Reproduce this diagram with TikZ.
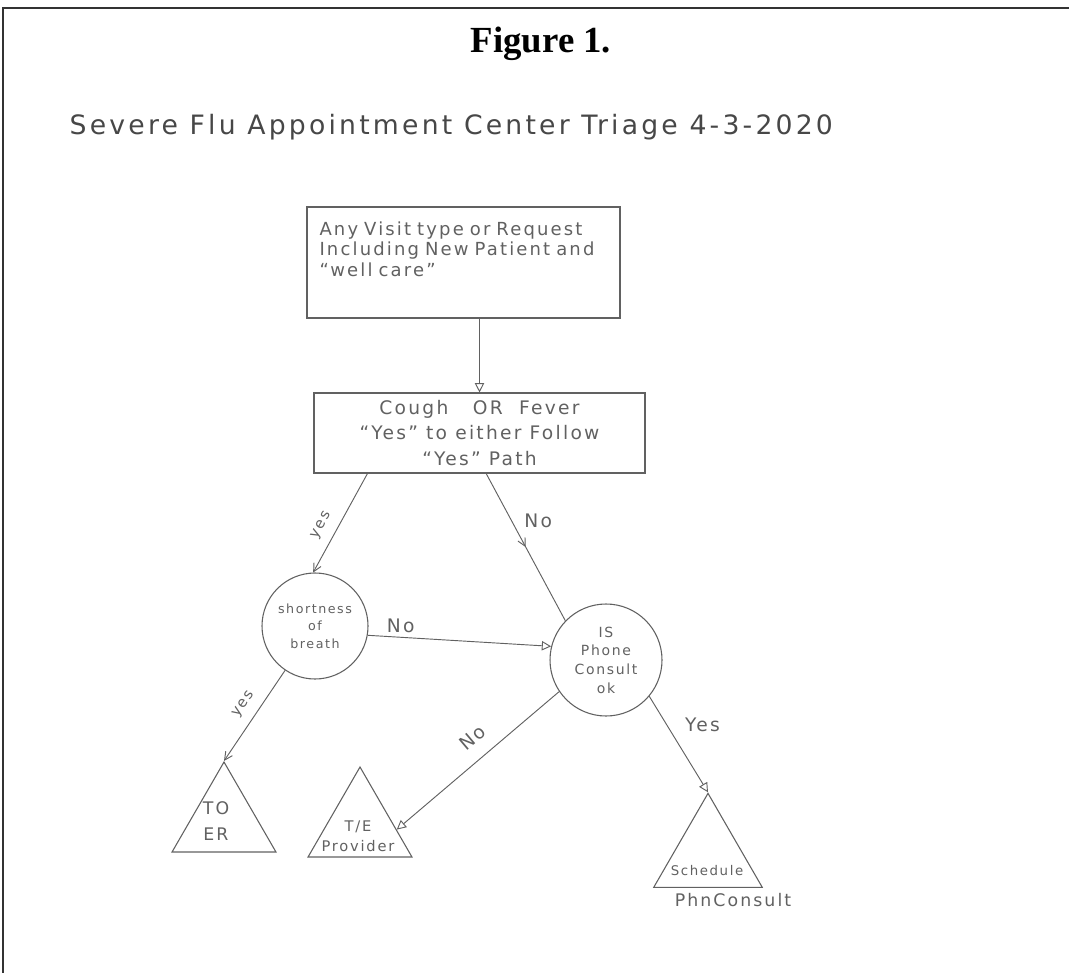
\documentclass[tikz,border=0pt]{standalone}
\usepackage{fontspec}
\setmainfont{Liberation Serif}
\newfontfamily\handfont[LetterSpace=12]{DejaVu Sans}
\usetikzlibrary{shapes.geometric,arrows.meta,decorations.markings,positioning}

\colorlet{pencil}{black!62}
\newcommand\handsize[2]{\handfont\fontsize{#1}{#2}\selectfont}

\tikzset{
  hand/.style={text=pencil},
  flowbox/.style={rectangle, draw=pencil, line width=0.8pt, text=pencil},
  decision/.style={circle, draw=pencil, line width=0.8pt, inner sep=0pt, align=center, text=pencil},
  outcome/.style={regular polygon, regular polygon sides=3, draw=pencil, line width=0.8pt, inner sep=0pt},
  edgelabel/.style={text=pencil, font=\handsize{14}{16}},
  edgesmall/.style={text=pencil, font=\handsize{11}{13}, inner sep=1pt},
  pencilline/.style={draw=pencil, line width=0.7pt},
  flowline/.style={pencilline, -{Triangle[open, length=7pt, width=7pt]}},
  barbline/.style={pencilline, -{Straight Barb[length=6pt, width=6pt]}},
  midarrow/.style={postaction={decorate}, decoration={markings,
      mark=at position 0.5 with {\arrow{Straight Barb[length=6pt, width=6pt]}}}}
}

\begin{document}
\begin{tikzpicture}[x=0.75pt, y=-0.75pt]
\useasboundingbox (0,0) rectangle (1069,973);
% page frame
\draw[black!80, line width=1.5pt] (1069,8) -- (3,8) -- (3,973);

% headings
\node[anchor=base, font=\bfseries\fontsize{27.6}{30}\selectfont] (fig) at (541,53) {Figure 1.};
\node[text=black!72, anchor=base west, font=\handsize{20}{24}] (heading) at (65,135)
  {Severe Flu Appointment Center Triage 4-3-2020};

% boxes
\node[flowbox, minimum width=234.75pt, minimum height=83.25pt, inner xsep=9pt, inner ysep=0pt,
  text width=216pt, align=left, font=\handsize{13.5}{15.5}] (visit) at (463.5,262.5)
  {Any Visit type or Request\\Including New Patient and\\“well care”\\[5pt]\mbox{}};
\node[flowbox, minimum width=248.25pt, minimum height=60pt, inner sep=0pt, align=center,
  font=\handsize{14}{19}] (symptom) at (479.5,433)
  {Cough\ \ \ OR\ \ Fever\\“Yes” to either Follow\\“Yes” Path};

% decisions
\node[decision, minimum size=79.5pt, font=\handsize{9.5}{13}] (breath) at (315,626) {shortness\\of\\breath};
\node[decision, minimum size=84pt, font=\handsize{10.5}{14}] (phone) at (606,660) {IS\\Phone\\Consult\\ok};

% outcomes
\node[outcome, minimum size=90pt] (er) at (224,822) {};
\node[outcome, minimum size=90pt] (provider) at (360,827) {};
\node[outcome, minimum size=94pt] (sched) at (708,856) {};
\node[hand, align=center, font=\handsize{13}{20}] (ertext) at (216,821) {TO\\ER};
\node[hand, align=center, font=\handsize{11}{15}] (providertext) at (358,836) {T/E\\Provider};
\node[hand, font=\handsize{10}{12}] (schedtext) at (707,871) {Schedule};
\node[hand, font=\handsize{13}{15}] (phnconsult) at (733,900) {PhnConsult};

% connectors
\draw[flowline] (visit.south -| symptom.north) -- (symptom.north);
\draw[barbline] ([xshift=40.5pt]symptom.south west) -- (breath.92)
  node[edgesmall, pos=0.6, sloped, above=6pt] {yes};
\draw[pencilline, midarrow] ([xshift=5pt]symptom.south) -- (phone.136)
  node[edgelabel, pos=0.32, right=6pt] {No};
\draw[flowline] (breath.-10) -- (phone.166) node[edgelabel, pos=0.18, above] {No};
\draw[flowline] (phone.214) -- (provider.-4) node[edgelabel, pos=0.45, sloped, above=7pt] {No};
\draw[flowline] (phone.-40) -- (sched.corner 1) node[edgelabel, pos=0.3, right=10pt] {Yes};
\draw[barbline] (breath.-124) -- (er.corner 1) node[edgesmall, pos=0.47, sloped, above=6pt] {yes};
\end{tikzpicture}
\end{document}
